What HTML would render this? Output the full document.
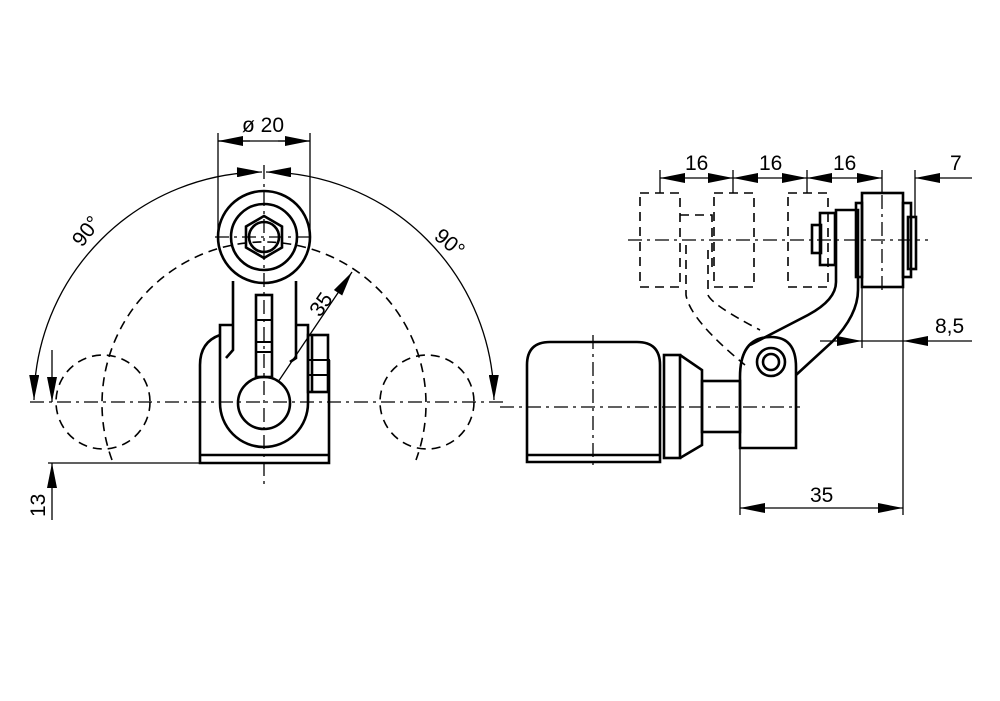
<!DOCTYPE html>
<html><head><meta charset="utf-8"><style>
html,body{margin:0;padding:0;background:#fff}
svg{display:block}
text{font-family:"Liberation Sans",sans-serif;font-size:21px;fill:#000}
</style></head><body>
<svg width="1000" height="701" viewBox="0 0 1000 701" xmlns="http://www.w3.org/2000/svg">
<defs>
<marker id="a" viewBox="0 0 10 4" refX="10" refY="2" markerWidth="26" markerHeight="10" markerUnits="userSpaceOnUse" orient="auto-start-reverse"><path d="M0,0L10,2L0,4z" fill="#000"/></marker>
</defs>
<g fill="none" stroke="#000">
<g stroke-width="1.3" stroke-dasharray="14,5,3,5">
<line x1="30" y1="402" x2="505" y2="402"/>
<line x1="264" y1="165" x2="264" y2="485"/>
<line x1="215" y1="237" x2="315" y2="237"/>
</g>
<g stroke-width="1.6" stroke-dasharray="9,6">
<circle cx="103" cy="402" r="47"/>
<circle cx="427" cy="402" r="47"/>
<path d="M112,460 A162,162 0 1 1 416,460"/>
</g>
<g stroke-width="1.3">
<path d="M34,400 A230,230 0 0 1 262,172" marker-start="url(#a)" marker-end="url(#a)"/>
<path d="M266,172 A230,230 0 0 1 494,400" marker-start="url(#a)" marker-end="url(#a)"/>
<line x1="218" y1="133" x2="218" y2="240"/>
<line x1="310" y1="133" x2="310" y2="240"/>
<line x1="218" y1="141" x2="310" y2="141"/>
<line x1="250" y1="141" x2="218" y2="141" marker-end="url(#a)"/>
<line x1="278" y1="141" x2="310" y2="141" marker-end="url(#a)"/>
<line x1="48" y1="463" x2="200" y2="463"/>
<line x1="52" y1="350" x2="52" y2="402" marker-end="url(#a)"/>
<line x1="52" y1="520" x2="52" y2="463" marker-end="url(#a)"/>
<line x1="278" y1="382" x2="352" y2="272" marker-end="url(#a)"/>
</g>
<g stroke-width="2.6">
<circle cx="264" cy="237" r="46"/>
<circle cx="264" cy="237" r="33"/>
<polygon points="264,216 282,226.5 282,247.5 264,258 246,247.5 246,226.5"/>
<circle cx="264" cy="237" r="15"/>
<path d="M233,281 V350 L226,358"/>
<path d="M296,281 V358 L290,362"/>
<rect x="256" y="295" width="16" height="82"/>
<circle cx="264" cy="403" r="26"/>
<path d="M232,325 H220 V403 A44,44 0 0 0 308,403 V325 H297"/>
<path d="M220,335 Q200,342 200,365 V463 H329 V360"/>
<line x1="200" y1="455" x2="329" y2="455"/>
<rect x="308" y="335" width="20" height="57"/>
<line x1="312" y1="336" x2="312" y2="392"/>
</g>
<g stroke-width="2"><line x1="256" y1="320" x2="272" y2="320"/><line x1="256" y1="342" x2="272" y2="342"/><line x1="256" y1="352" x2="272" y2="352"/><line x1="308" y1="360" x2="330" y2="360"/><line x1="308" y1="375" x2="328" y2="375"/></g>

<g stroke-width="1.3" stroke-dasharray="14,5,3,5">
<line x1="500" y1="407" x2="800" y2="407"/>
<line x1="628" y1="240" x2="928" y2="240"/>
<line x1="593" y1="335" x2="593" y2="470"/>
<line x1="882" y1="195" x2="882" y2="295"/>
</g>
<g stroke-width="1.6" stroke-dasharray="9,6">
<rect x="640" y="193" width="40" height="94"/>
<rect x="714" y="193" width="40" height="94"/>
<rect x="788" y="193" width="40" height="94"/>
<path d="M680,215 H712 V270"/>
<path d="M686,245 V295 Q690,320 745,365"/>
<path d="M708,250 V295 Q712,305 760,330"/>
</g>
<g stroke-width="2.6">
<path d="M527,462 V365 Q527,342 550,342 H637 Q660,342 660,365 V462 Z"/>
<line x1="527" y1="455" x2="660" y2="455"/>
<rect x="664" y="355" width="16" height="103"/>
<path d="M680,355 L702,370 V445 L680,458"/>
<rect x="702" y="381" width="38" height="51"/>
<path d="M740,448 V377 Q740,337 771,337 Q796,337 796,367 V448 Z"/>
<path d="M796,375 L832,342 Q858,315 858,290 V210 H836 V282 Q836,300 808,315 L750,345"/>
<circle cx="771" cy="362" r="14"/>
<circle cx="771" cy="362" r="8"/>
<rect x="862" y="193" width="41" height="94"/>
<rect x="856" y="203" width="6" height="74"/>
<rect x="903" y="203" width="8" height="74"/>
<rect x="908" y="217" width="8" height="52"/>
<rect x="820" y="213" width="15" height="52"/>
<rect x="812" y="225" width="9" height="28"/>
</g>
<g stroke-width="1.3">
<line x1="660" y1="170" x2="660" y2="193"/>
<line x1="733" y1="170" x2="733" y2="193"/>
<line x1="807" y1="170" x2="807" y2="193"/>
<line x1="882" y1="170" x2="882" y2="193"/>
<line x1="915" y1="170" x2="915" y2="217"/>
<line x1="696" y1="178" x2="660" y2="178" marker-end="url(#a)"/><line x1="696" y1="178" x2="733" y2="178" marker-end="url(#a)"/>
<line x1="770" y1="178" x2="733" y2="178" marker-end="url(#a)"/><line x1="770" y1="178" x2="807" y2="178" marker-end="url(#a)"/>
<line x1="845" y1="178" x2="807" y2="178" marker-end="url(#a)"/><line x1="845" y1="178" x2="882" y2="178" marker-end="url(#a)"/>
<line x1="972" y1="178" x2="915" y2="178" marker-end="url(#a)"/>
<line x1="862" y1="287" x2="862" y2="348"/>
<line x1="903" y1="287" x2="903" y2="515"/>
<line x1="820" y1="341" x2="862" y2="341" marker-end="url(#a)"/>
<line x1="862" y1="341" x2="903" y2="341"/>
<line x1="972" y1="341" x2="903" y2="341" marker-end="url(#a)"/>
<line x1="740" y1="448" x2="740" y2="515"/>
<line x1="820" y1="508" x2="740" y2="508" marker-end="url(#a)"/>
<line x1="820" y1="508" x2="903" y2="508" marker-end="url(#a)"/>
</g>
</g>
<text x="242" y="132">ø 20</text>
<text x="0" y="0" transform="translate(82,248) rotate(-52)">90°</text>
<text x="0" y="0" transform="translate(433,238) rotate(40)">90°</text>
<text x="0" y="0" transform="translate(320,318) rotate(-55)">35</text>
<text x="0" y="0" transform="translate(45,517) rotate(-90)">13</text>
<text x="685" y="170">16</text>
<text x="759" y="170">16</text>
<text x="833" y="170">16</text>
<text x="950" y="170">7</text>
<text x="935" y="333">8,5</text>
<text x="810" y="502">35</text>
</svg>
</body></html>
